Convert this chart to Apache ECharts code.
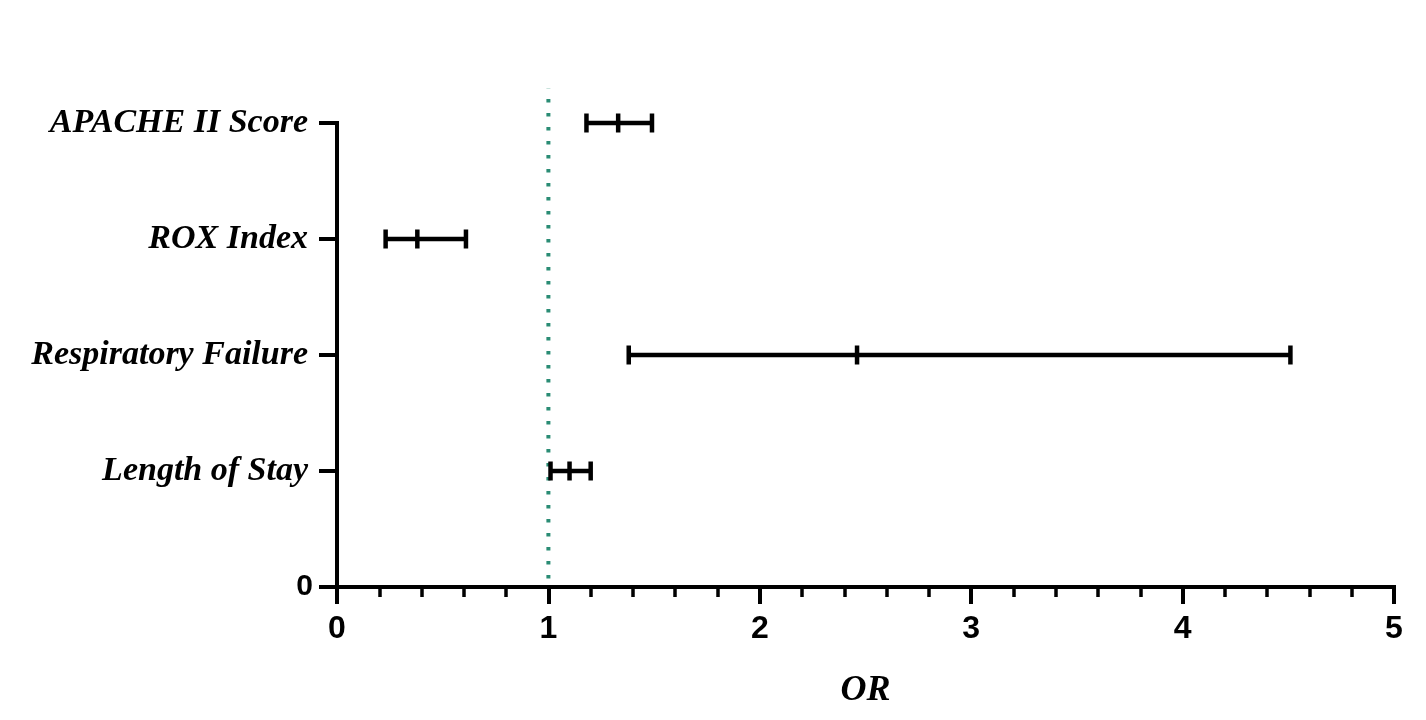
<!DOCTYPE html>
<html>
<head>
<meta charset="utf-8">
<script src="https://cdn.jsdelivr.net/npm/echarts@6/dist/echarts.min.js"></script>
<style>
html,body{margin:0;padding:0;background:#fff;}
#chart{width:1426px;height:720px;}
</style>
</head>
<body>
<div id="chart"></div>
<script>
// Data
var categories = ['APACHE II Score', 'ROX Index', 'Respiratory Failure', 'Length of Stay'];
var rowPositions = [4, 3, 2, 1];
var orValues = [1.33, 0.38, 2.46, 1.10];
var lowerCI = [1.18, 0.23, 1.38, 1.01];
var upperCI = [1.49, 0.61, 4.51, 1.20];
var yTickLabels = ['0', 'Length of Stay', 'Respiratory Failure', 'ROX Index', 'APACHE II Score'];
var xTicks = [0, 1, 2, 3, 4, 5];
var refValue = 1;
var refLineTop = 4.3;

var barData = categories.map(function (c, i) {
  return [lowerCI[i], orValues[i], upperCI[i], rowPositions[i]];
});

var chart = echarts.init(document.getElementById('chart'), null, {renderer: 'canvas'});

var option = {
  backgroundColor: '#ffffff',
  animation: false,
  grid: {left: 337, right: 32, top: 123, bottom: 133, containLabel: false},
  xAxis: {
    type: 'value',
    min: xTicks[0],
    max: xTicks[xTicks.length - 1],
    interval: 1,
    name: 'OR',
    nameLocation: 'middle',
    nameGap: 86,
    nameTextStyle: {fontFamily: 'Liberation Serif', fontStyle: 'italic', fontWeight: 'bold', fontSize: 36, color: '#000'},
    axisLine: {show: true, lineStyle: {color: '#000', width: 4, cap: 'square'}},
    axisTick: {show: true, length: 17, lineStyle: {color: '#000', width: 4}},
    minorTick: {show: true, splitNumber: 5, length: 10, lineStyle: {color: '#000', width: 3.5}},
    axisLabel: {margin: 26, fontFamily: 'Liberation Sans', fontWeight: 'bold', fontSize: 32, color: '#000'},
    splitLine: {show: false},
    minorSplitLine: {show: false}
  },
  yAxis: {
    type: 'value',
    min: 0,
    max: 4,
    interval: 1,
    axisLine: {show: true, onZero: false, lineStyle: {color: '#000', width: 4, cap: 'square'}},
    axisTick: {show: true, length: 18, lineStyle: {color: '#000', width: 4}},
    axisLabel: {
      margin: 24,
      color: '#000',
      formatter: function (v) {
        var t = yTickLabels[Math.round(v)];
        return v === 0 ? '{z|' + t + '}' : '{c|' + t + '}';
      },
      rich: {
        z: {fontFamily: 'Liberation Sans', fontWeight: 'bold', fontSize: 30, color: '#000'},
        c: {fontFamily: 'Liberation Serif', fontStyle: 'italic', fontWeight: 'bold', fontSize: 34, color: '#000', padding: [0, 5, 0, 0]}
      }
    },
    splitLine: {show: false}
  },
  series: [
    {
      type: 'line',
      clip: false,
      silent: true,
      symbol: 'none',
      data: [[refValue, 0], [refValue, refLineTop]],
      lineStyle: {color: '#2a8c74', width: 4, type: [3.5, 10.5], dashOffset: 5.5, cap: 'butt'},
      z: 1
    },
    {
      type: 'custom',
      clip: false,
      data: barData,
      z: 3,
      renderItem: function (params, api) {
        var y = api.value(3);
        var pL = api.coord([api.value(0), y]);
        var pC = api.coord([api.value(1), y]);
        var pU = api.coord([api.value(2), y]);
        var h = 9.5;
        var st = {stroke: '#000', lineWidth: 4.5, fill: null};
        return {
          type: 'group',
          children: [
            {type: 'line', shape: {x1: pL[0], y1: pL[1], x2: pU[0], y2: pU[1]}, style: st},
            {type: 'line', shape: {x1: pL[0], y1: pL[1] - h, x2: pL[0], y2: pL[1] + h}, style: st},
            {type: 'line', shape: {x1: pC[0], y1: pC[1] - h, x2: pC[0], y2: pC[1] + h}, style: st},
            {type: 'line', shape: {x1: pU[0], y1: pU[1] - h, x2: pU[0], y2: pU[1] + h}, style: st}
          ]
        };
      }
    }
  ]
};

chart.setOption(option);
</script>
</body>
</html>
